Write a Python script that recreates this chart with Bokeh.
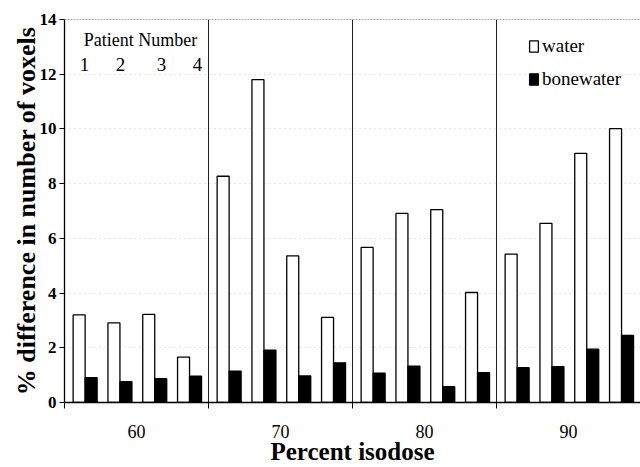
from bokeh.plotting import figure
from bokeh.models import (Range1d, FixedTicker, ColumnDataSource, Legend, LegendItem,
                          Label, Span)
from bokeh.embed import file_html
from bokeh.resources import INLINE

# ---- data ----
isodose = ["60", "70", "80", "90"]
patients = ["1", "2", "3", "4"]
water = [3.20, 2.91, 3.22, 1.66,
         8.27, 11.80, 5.36, 3.11,
         5.67, 6.91, 7.05, 4.02,
         5.42, 6.55, 9.11, 10.01]
bonewater = [0.91, 0.76, 0.87, 0.96,
             1.15, 1.91, 0.97, 1.45,
             1.07, 1.33, 0.58, 1.09,
             1.27, 1.31, 1.95, 2.45]
y_ticks = [0, 2, 4, 6, 8, 10, 12, 14]

FONT = "Liberation Serif"

# bar layout within each isodose group (group width = 1)
first_off, pair_step, bar_w = 0.06, 0.2417, 0.0833
xw, xb = [], []
for g in range(len(isodose)):
    for p in range(len(patients)):
        left = g + first_off + p * pair_step
        xw.append(left + bar_w / 2)
        xb.append(left + bar_w * 1.5)

src = ColumnDataSource(dict(xw=xw, xb=xb, water=water, bone=bonewater))

p = figure(width=640, height=467, output_backend="svg", toolbar_location=None,
           x_range=Range1d(0, len(isodose)), y_range=Range1d(0, 14),
           min_border_left=64, min_border_right=0, min_border_top=19,
           min_border_bottom=64)
p.outline_line_color = None
p.background_fill_color = "white"

rw = p.vbar(x="xw", top="water", width=bar_w, source=src, fill_color="white",
            line_color="black", line_width=1.3)
rb = p.vbar(x="xb", top="bone", width=bar_w, source=src, fill_color="black",
            line_color="black", line_width=1.3)

# x axis: labels at group centres, tick marks at group boundaries
centres = [i + 0.5 for i in range(len(isodose))]
p.xaxis.ticker = FixedTicker(ticks=centres,
                             minor_ticks=list(range(len(isodose) + 1)))
p.xaxis.major_label_overrides = {c: lab for c, lab in zip(centres, isodose)}
p.xaxis.major_tick_out = 0
p.xaxis.major_tick_in = 0
p.xaxis.minor_tick_out = 6
p.xaxis.minor_tick_in = 0
p.xaxis.minor_tick_line_color = "black"
p.xaxis.axis_line_color = "black"
p.xaxis.axis_line_width = 1.3
p.xaxis.major_label_text_font = FONT
p.xaxis.major_label_text_font_size = "18px"
p.xaxis.major_label_text_color = "black"
p.xaxis.major_label_standoff = 16
p.xaxis.axis_label = "Percent isodose"
p.xaxis.axis_label_text_font = FONT
p.xaxis.axis_label_text_font_size = "25px"
p.xaxis.axis_label_text_font_style = "bold"
p.xaxis.axis_label_text_color = "black"
p.xaxis.axis_label_standoff = -3

# y axis
p.yaxis.ticker = FixedTicker(ticks=y_ticks)
p.yaxis.major_tick_out = 5
p.yaxis.major_tick_in = 0
p.yaxis.minor_tick_line_color = None
p.yaxis.axis_line_color = "black"
p.yaxis.axis_line_width = 1.3
p.yaxis.major_tick_line_color = "black"
p.yaxis.major_label_text_font = FONT
p.yaxis.major_label_text_font_size = "17px"
p.yaxis.major_label_text_font_style = "bold"
p.yaxis.major_label_text_color = "black"
p.yaxis.major_label_standoff = 3
p.yaxis.axis_label = "% difference in number of voxels"
p.yaxis.axis_label_text_font = FONT
p.yaxis.axis_label_text_font_size = "26px"
p.yaxis.axis_label_text_font_style = "bold"
p.yaxis.axis_label_text_color = "black"
p.yaxis.axis_label_standoff = -4

# grids
p.xgrid.ticker = FixedTicker(ticks=list(range(1, len(isodose))))
p.xgrid.grid_line_color = "#222222"
p.xgrid.grid_line_width = 1
p.ygrid.ticker = FixedTicker(ticks=y_ticks[1:-1])
p.ygrid.grid_line_color = "#cccccc"
p.ygrid.grid_line_dash = "1 4"
p.ygrid.grid_line_width = 1
p.add_layout(Span(location=14, dimension="width", line_color="#555555",
                  line_dash="2 1", line_width=1))

# legend
legend = Legend(items=[LegendItem(label="water", renderers=[rw]),
                       LegendItem(label="bonewater", renderers=[rb])],
                location=(464, 312), border_line_color=None,
                background_fill_alpha=0, padding=0, margin=0, spacing=11,
                glyph_width=11, glyph_height=14, label_standoff=3,
                label_text_font=FONT, label_text_font_size="19px",
                label_text_color="black", label_height=20)
p.add_layout(legend)

# patient number annotation (screen units relative to the plot frame)
p.add_layout(Label(x=76, y=363, x_units="screen", y_units="screen",
                   text="Patient Number", text_font=FONT, text_font_size="18px",
                   text_align="center", text_baseline="middle", text_color="black"))
for xs, lab in zip([20, 56, 97, 133], patients):
    p.add_layout(Label(x=xs, y=338, x_units="screen", y_units="screen",
                       text=lab, text_font=FONT, text_font_size="19px",
                       text_align="center", text_baseline="middle",
                       text_color="black"))

open("out.html", "w").write(file_html(p, INLINE))
